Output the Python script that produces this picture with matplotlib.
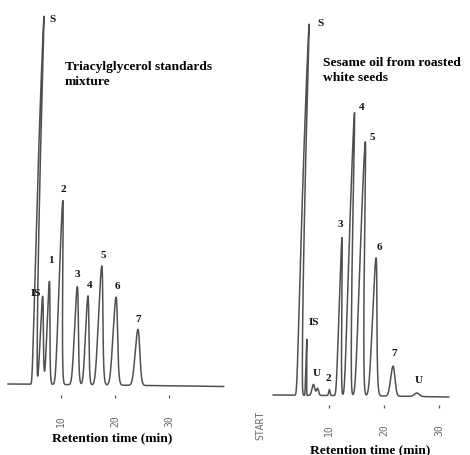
import numpy as np
import matplotlib.pyplot as plt

# triacylglycerol standards mixture (left trace)
# retention time (min) at the foot of each peak, height in recorder units, peak sigma (min)
std_names = ['S', 'IS', '1', '2', '3', '4', '5', '6', '7']
std_rt = [5.17, 6.37, 7.57, 9.69, 12.73, 14.72, 17.15, 19.9, 24.05]
std_height = [368, 88, 103, 184, 98, 89, 119, 88, 56]
std_sigma = [0.18, 0.27, 0.25, 0.3, 0.33, 0.3, 0.38, 0.4, 0.42]
std_base_t = [0.3, 26.0, 40.0]
std_base_y = [0.0, -1.5, -2.5]

# sesame oil from roasted white seeds (right trace)
oil_names = ['S', 'IS', 'U', '', '2', '3', '4', '5', '6', '7', 'U']
oil_rt = [4.56, 5.73, 7.09, 7.85, 10.0, 11.73, 13.36, 15.49, 18.0, 21.5, 25.9]
oil_height = [371, 56, 11, 7, 6, 158, 283, 254, 138, 30, 3.5]
oil_sigma = [0.2, 0.07, 0.25, 0.2, 0.12, 0.22, 0.26, 0.35, 0.38, 0.38, 0.45]
oil_base_t = [-0.2, 20.0, 31.7]
oil_base_y = [0.0, -1.0, -2.0]

ticks = [10, 20, 30]

# the recorder pen swings on an arc, so tall peaks lean to the right
PEN_LEAN = 2.94e-3
PEN_BEND = 4.9e-6

W, H = 470, 456
INK = '#505050'
SERIF = ['Liberation Serif', 'DejaVu Serif']
MONO = ['DejaVu Sans Mono']


def pen_shift(y):
    y = np.clip(y, 0, None)
    return PEN_LEAN * y + PEN_BEND * y ** 2


def build_trace(rt, height, sigma, base_t, base_y):
    t = np.linspace(base_t[0], base_t[-1], 6000)
    y = np.interp(t, base_t, base_y)
    for r, h, s in zip(rt, height, sigma):
        y = y + h * np.exp(-0.5 * ((t - r) / s) ** 2)
    x = t + pen_shift(y)
    # apex of each peak, where the labels hang
    apex_y = np.interp(rt, t, y)
    apex_x = np.array(rt) + pen_shift(apex_y)
    return x, y, apex_x, apex_y


def px_axes(fig, x0, x1, y0, y1):
    return fig.add_axes([x0 / W, 1 - y1 / H, (x1 - x0) / W, (y1 - y0) / H])


def style_axes(ax, pad):
    for s in ax.spines.values():
        s.set_visible(False)
    ax.set_yticks([])
    ax.set_xticks(ticks)
    ax.tick_params(axis='x', direction='out', length=2.2, width=0.9, color='#555555',
                   pad=pad, labelrotation=90, labelsize=7, labelcolor='#6a6a6a')
    for lab in ax.get_xticklabels():
        lab.set_family(MONO)


def label_peaks(ax, names, apex_x, apex_y, offsets):
    for name, x, y, (dx, dy) in zip(names, apex_x, apex_y, offsets):
        if not name:
            continue
        ax.annotate(name, (x, y), xytext=(dx, dy), textcoords='offset pixels',
                    ha='center', va='center', fontsize=8, fontweight='bold',
                    family=SERIF, color='#111111')


fig = plt.figure(figsize=(W / 100, H / 100), dpi=100)

# left: standards, 5.43 px per minute, t=0 at x=6.4 px, baseline at y=385 px
ax1 = px_axes(fig, 0, 235, 0, 396)
ax1.set_xlim((0 - 6.4) / 5.43, (235 - 6.4) / 5.43)
ax1.set_ylim(-(396 - 385), 385)
x, y, ax_, ay = build_trace(std_rt, std_height, std_sigma, std_base_t, std_base_y)
ax1.plot(x, y, color=INK, lw=1.1)
style_axes(ax1, 11.5)
std_off = [(9, -2), (-7, 4), (1, 22), (0, 12), (0, 13), (2, 11), (2, 11), (1, 12), (0, 11)]
label_peaks(ax1, std_names, ax_, ay, std_off)

# right: sesame oil, 5.5 px per minute, t=0 at x=274.3 px, baseline at y=396 px
ax2 = px_axes(fig, 235, 470, 0, 405.5)
ax2.set_xlim((235 - 274.3) / 5.5, (470 - 274.3) / 5.5)
ax2.set_ylim(-(405.5 - 396), 396)
x, y, ax_, ay = build_trace(oil_rt, oil_height, oil_sigma, oil_base_t, oil_base_y)
ax2.plot(x, y, color=INK, lw=1.1)
style_axes(ax2, 11)
oil_off = [(11, 2), (7, 18), (3, 12), (0, 0), (-1, 12), (-2, 14), (7, 6), (7, 5),
           (3, 11), (1, 14), (2, 14)]
label_peaks(ax2, oil_names, ax_, ay, oil_off)

fig.text(65 / W, 1 - 61 / H, 'Triacylglycerol standards\nmixture', ha='left', va='top',
         fontsize=9.7, fontweight='bold', family=SERIF, linespacing=1.3)
fig.text(322.7 / W, 1 - 56.5 / H, 'Sesame oil from roasted\nwhite seeds', ha='left', va='top',
         fontsize=9.7, fontweight='bold', family=SERIF, linespacing=1.35)

fig.text(111.7 / W, 1 - 438.3 / H, 'Retention time (min)', ha='center', va='center',
         fontsize=9.7, fontweight='bold', family=SERIF)
fig.text(370 / W, 1 - 450 / H, 'Retention time (min)', ha='center', va='center',
         fontsize=9.7, fontweight='bold', family=SERIF)
fig.text(260 / W, 1 - 425 / H, 'START', rotation=90, ha='center', va='center',
         fontsize=7, family=MONO, color='#6a6a6a')

fig.savefig('out.png', dpi=100)
